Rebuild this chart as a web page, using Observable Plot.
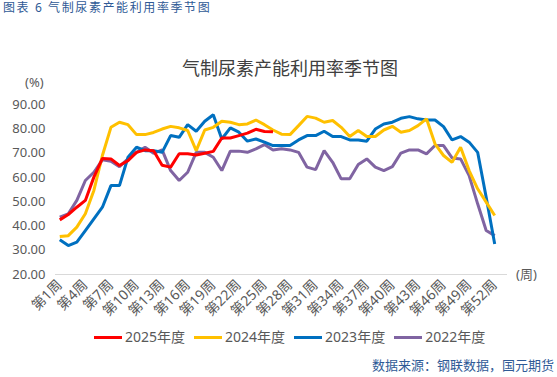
<!DOCTYPE html>
<html>
<head>
<meta charset="utf-8">
<script src="https://cdn.jsdelivr.net/npm/d3@7"></script>
<script src="https://cdn.jsdelivr.net/npm/@observablehq/plot@0.6"></script>
<style>
  html, body { margin: 0; padding: 0; background: #fff; }
  body { width: 557px; height: 377px; overflow: hidden; font-family: "Noto Sans", "Noto Sans CJK SC", sans-serif; }
  #wrap { position: relative; width: 557px; height: 377px; }
  #wrap svg { position: absolute; left: 0; top: 0; }
  .abs { position: absolute; white-space: nowrap; line-height: 1; }
  #header { left: 3px; top: 2px; font-size: 12px; letter-spacing: 1.6px; color: #2f5a96; }
  #title { left: 0; width: 580px; text-align: center; top: 59px; font-size: 18px; color: #404040; }
  #yunit { left: 25px; top: 76px; font-size: 13px; color: #595959; }
  #xunit { left: 516px; top: 268px; font-size: 13px; color: #595959; }
  #legend { left: 94px; top: 330px; font-size: 14px; color: #595959; display: flex; align-items: center; }
  #legend .sw { display: inline-block; width: 28px; height: 3px; margin-right: 3px; }
  #legend .it { display: flex; align-items: center; margin-right: 9px; }
  #source { right: 3px; top: 359px; font-size: 13px; color: #2f5a96; }
</style>
</head>
<body>
<div id="wrap">
  <div id="header" class="abs">图表 6 气制尿素产能利用率季节图</div>
  <div id="title" class="abs">气制尿素产能利用率季节图</div>
  <div id="yunit" class="abs">(%)</div>
  <div id="xunit" class="abs">(周)</div>
  <div id="legend" class="abs"></div>
  <div id="source" class="abs">数据来源：钢联数据，国元期货</div>
</div>
<script>
// Series (weekly capacity utilisation, %)
const seriesNames = ["2025年度", "2024年度", "2023年度", "2022年度"];
const seriesColors = ["#ff0000", "#ffc000", "#0070c0", "#8064a2"];

const y2025 = [42.5, 44.7, 47.7, 50.5, 60.1, 67.8, 67.6, 64.9, 66.9, 70.3, 71.3, 71.0, 65.0, 64.2, 69.7, 69.7, 69.2, 69.9, 70.7, 76.2, 76.2, 77.2, 78.2, 79.8, 78.9, 78.8];

const y2024 = [35.6, 36.0, 39.5, 45.0, 54.6, 69.0, 80.6, 82.7, 81.7, 77.6, 77.6, 78.5, 79.9, 81.0, 80.4, 79.3, 71.0, 79.5, 80.6, 83.1, 82.7, 81.7, 82.0, 83.6, 81.7, 79.5, 77.8, 77.6, 81.3, 85.1, 84.4, 82.7, 83.4, 80.6, 76.8, 79.3, 76.8, 76.8, 79.5, 81.0, 78.6, 79.3, 81.3, 84.1, 73.8, 69.0, 66.2, 72.4, 62.8, 55.3, 49.8, 44.3];

const y2023 = [34.3, 31.9, 33.3, 38.1, 42.9, 47.7, 56.6, 56.6, 68.3, 72.4, 71.0, 71.0, 70.3, 77.2, 76.5, 81.7, 79.0, 83.1, 85.8, 75.8, 80.4, 78.6, 74.9, 75.8, 74.5, 73.1, 73.1, 73.1, 75.4, 77.2, 77.2, 79.0, 76.8, 76.8, 75.4, 75.4, 74.9, 79.9, 82.0, 82.7, 84.3, 85.0, 84.1, 83.6, 83.6, 80.9, 75.4, 76.8, 74.5, 70.3, 51.8, 32.6];

const y2022 = [43.6, 45.0, 50.5, 58.7, 62.1, 67.2, 66.6, 64.4, 67.6, 70.3, 72.4, 69.9, 71.3, 62.8, 58.7, 62.1, 70.3, 70.3, 68.3, 62.8, 70.8, 70.8, 70.3, 71.7, 73.5, 71.3, 71.8, 71.3, 70.3, 64.2, 63.2, 71.0, 66.2, 59.4, 59.4, 65.3, 67.6, 64.2, 62.8, 64.4, 70.0, 71.3, 71.3, 69.7, 73.1, 73.1, 68.0, 67.6, 60.7, 49.1, 38.1, 36.0];

// Week categories (53 slots on the axis; week 53 has no data)
const weekCount = 53;
const tickWeeks = [1, 4, 7, 10, 13, 16, 19, 22, 25, 28, 31, 34, 37, 40, 43, 46, 49, 52];
const yTicks = [20, 30, 40, 50, 60, 70, 80, 90];

const allSeries = [y2025, y2024, y2023, y2022];
// draw order: 2022 at bottom, 2025 on top
const drawOrder = [3, 2, 1, 0];
const rows = [];
for (const si of drawOrder) {
  allSeries[si].forEach((v, i) => rows.push({week: i + 1, value: v, series: seriesNames[si]}));
}

const chart = Plot.plot({
  width: 557,
  height: 377,
  marginLeft: 55,
  marginRight: 50,
  marginTop: 104,
  marginBottom: 103,
  style: {fontFamily: '"Noto Sans", "Noto Sans CJK SC", sans-serif', color: "#595959", background: "transparent"},
  x: {type: "linear", domain: [0.5, weekCount + 0.5], label: null},
  y: {domain: [20, 90], label: null},
  color: {domain: seriesNames, range: seriesColors},
  marks: [
    Plot.ruleY([20], {stroke: "#d9d9d9", strokeWidth: 1}),
    Plot.axisY({ticks: yTicks, tickFormat: d => d.toFixed(2), tickSize: 0, tickPadding: 10, fontSize: 13, label: null}),
    Plot.axisX({ticks: tickWeeks, tickFormat: d => `第${d}周`, tickSize: 0, tickPadding: 8, tickRotate: -45, fontSize: 14, label: null}),
    Plot.line(rows, {x: "week", y: "value", z: "series", stroke: "series", strokeWidth: 3, strokeLinejoin: "miter", strokeLinecap: "butt", curve: "linear"})
  ]
});
document.getElementById("wrap").prepend(chart);

// legend
const leg = document.getElementById("legend");
seriesNames.forEach((n, i) => {
  const it = document.createElement("span");
  it.className = "it";
  it.innerHTML = `<span class="sw" style="background:${seriesColors[i]}"></span><span>${n}</span>`;
  leg.appendChild(it);
});
</script>
</body>
</html>
